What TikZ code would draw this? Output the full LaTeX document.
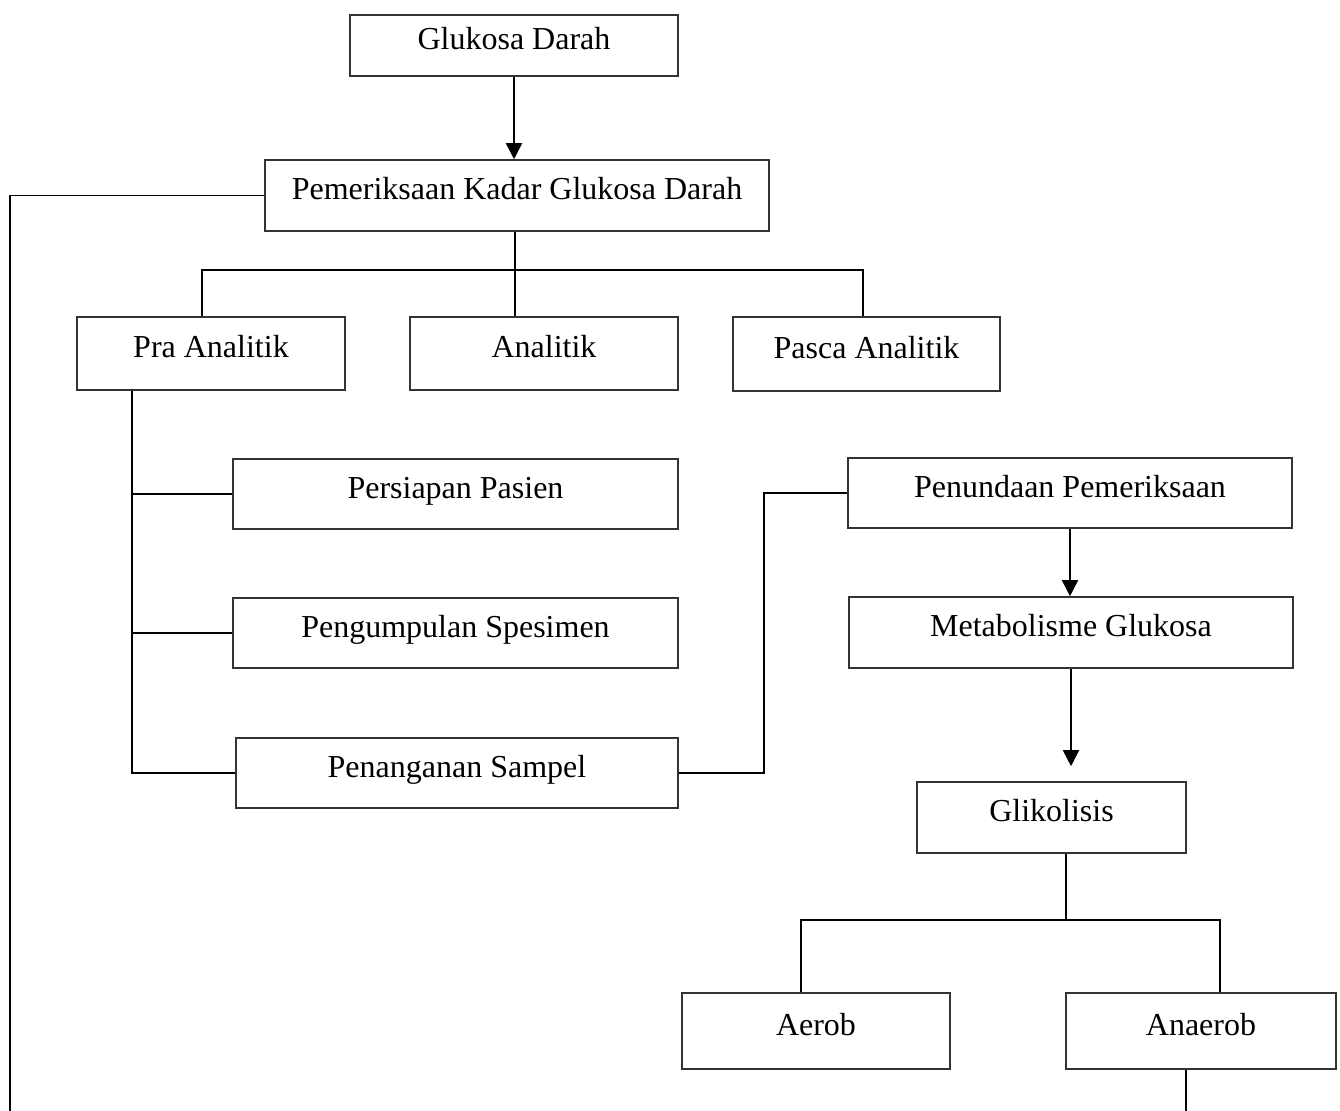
\documentclass[tikz,border=0pt]{standalone}
\usepackage{fontspec}
\setmainfont{Liberation Serif}
\usetikzlibrary{calc,arrows.meta}
\begin{document}
\begin{tikzpicture}[x=0.5pt,y=-0.5pt,
  box/.style={draw=black!80, line width=0.8pt, inner sep=0pt, font=\fontsize{16}{19}\selectfont, text height=10pt, text depth=5.5pt, align=center},
  conn/.style={line width=0.9pt, black},
  arr/.style={conn, -{Triangle[length=8pt,width=8pt]}}]
\useasboundingbox (0,0) rectangle (1340,1111);
% boxes
\node[box, minimum width=164pt, minimum height=30.5pt] (gd) at (514,45.5) {Glukosa Darah};
\node[box, minimum width=252pt, minimum height=35.5pt] (pk) at (517,195.5) {Pemeriksaan Kadar Glukosa Darah};
\node[box, minimum width=134pt, minimum height=36.5pt] (pra) at (211,353.5) {Pra Analitik};
\node[box, minimum width=134pt, minimum height=36.5pt] (an) at (544,353.5) {Analitik};
\node[box, minimum width=133.5pt, minimum height=37pt] (pasca) at (866.5,354) {Pasca Analitik};
\node[box, minimum width=222.5pt, minimum height=35pt] (pp) at (455.5,494) {Persiapan Pasien};
\node[box, minimum width=222.5pt, minimum height=35pt] (ps) at (455.5,633) {Pengumpulan Spesimen};
\node[box, minimum width=221pt, minimum height=35pt] (pn) at (457,773) {Penanganan Sampel};
\node[box, minimum width=222pt, minimum height=35pt] (pun) at (1070,493) {Penundaan Pemeriksaan};
\node[box, minimum width=222pt, minimum height=35.5pt] (met) at (1071,632.5) {Metabolisme Glukosa};
\node[box, minimum width=134.5pt, minimum height=35.5pt] (gli) at (1051.5,817.5) {Glikolisis};
\node[box, minimum width=134pt, minimum height=38pt] (aer) at (816,1031) {Aerob};
\node[box, minimum width=135pt, minimum height=38pt] (ana) at (1201,1031) {Anaerob};
% free ends
\coordinate (lb) at (10,1111);
\coordinate (rb) at (1186,1111);
% connectors
\draw[arr] (gd.south) -- (gd.south |- pk.north);
\draw[conn] (pk.west) -| (lb);
\coordinate (ax) at ($(an.north)+(-29,0)$);
\draw[conn] (pk.south -| ax) -- (ax);
\draw[conn] ($(pra.north)+(-9,0)$) -- ++(0,-46) -| ($(pasca.north)+(-3.5,0)$);
\coordinate (pv) at ($(pra.south)+(-79,0)$);
\draw[conn] (pv) |- (pn.west);
\draw[conn] (pv |- pp.west) -- (pp.west);
\draw[conn] (pv |- ps.west) -- (ps.west);
\draw[conn] (pn.east) -- ++(85,0) |- (pun.west);
\draw[arr] (pun.south) -- (pun.south |- met.north);
\draw[arr, shorten >=7.5pt] (met.south) -- (met.south |- gli.north);
\coordinate (gv) at ($(gli.south)+(14.5,0)$);
\draw[conn] (gv) -- ++(0,66) coordinate (gb);
\draw[conn] ($(aer.north)+(-15,0)$) |- (gb) -| ($(ana.north)+(19,0)$);
\draw[conn] (ana.south -| rb) -- (rb);
\end{tikzpicture}
\end{document}
